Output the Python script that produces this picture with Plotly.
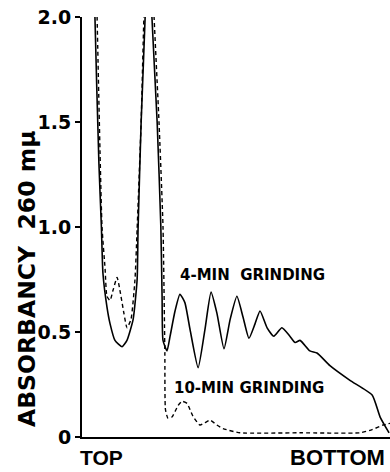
import plotly.graph_objects as go

# Position along gradient tube (0 = top, 100 = bottom), absorbance at 260 mu
x_4min = [3.6, 4.2, 5.5, 6.3, 6.8, 8.1, 9.1, 10.7, 13.0, 14.6, 16.6, 17.9, 18.2, 19.2, 20.5,
          21.4, 22.7, 24.4, 25.6, 26.0, 26.3, 27.6, 28.6, 30.2, 31.8, 33.4, 35.1, 37.7, 39.9,
          41.9, 43.8, 46.1, 48.1, 50.3, 52.3, 54.2, 56.2, 57.8, 60.1, 62.3, 64.9, 67.5, 69.2,
          70.8, 74.0, 76.3, 80.5, 87.0, 94.2, 96.8, 99.7]
y_4min = [2.6, 2.0, 1.3, 1.0, 0.78, 0.62, 0.54, 0.46, 0.43, 0.46, 0.56, 0.75, 0.99, 1.5, 2.0,
          2.6, 2.0, 1.5, 1.0, 0.67, 0.46, 0.41, 0.48, 0.60, 0.68, 0.64, 0.51, 0.33, 0.51,
          0.69, 0.59, 0.42, 0.56, 0.67, 0.57, 0.47, 0.54, 0.60, 0.52, 0.48, 0.52, 0.48, 0.45,
          0.46, 0.41, 0.40, 0.34, 0.27, 0.20, 0.095, 0.02]

x_10min = [4.2, 4.9, 6.5, 7.5, 8.1, 9.1, 10.1, 11.4, 12.3, 13.6, 14.6, 15.9, 17.2, 17.9, 19.2,
           20.1, 21.8, 23.4, 25.0, 26.3, 26.9, 27.1, 27.9, 29.2, 31.2, 32.5, 34.1, 36.0, 38.3,
           41.6, 43.8, 45.8, 51.3, 70.8, 90.3, 94.2, 97.7, 100.0]
y_10min = [2.5, 2.0, 1.0, 0.8, 0.67, 0.65, 0.70, 0.76, 0.70, 0.59, 0.52, 0.56, 0.75, 0.99, 1.5,
           2.0, 2.6, 2.0, 1.5, 1.0, 0.40, 0.13, 0.09, 0.095, 0.15, 0.17, 0.16, 0.10, 0.057,
           0.08, 0.057, 0.04, 0.02, 0.02, 0.02, 0.035, 0.057, 0.065]

y_ticks = [0, 0.5, 1.0, 1.5, 2.0]
y_tick_labels = ["0", "0.5", "1.0", "1.5", "2.0"]

FONT = "DejaVu Sans"

fig = go.Figure()
fig.add_trace(go.Scatter(x=x_4min, y=y_4min, mode="lines",
                         line=dict(color="black", width=1.6, shape="spline", smoothing=0.5),
                         showlegend=False, hoverinfo="skip"))
fig.add_trace(go.Scatter(x=x_10min, y=y_10min, mode="lines",
                         line=dict(color="black", width=1.4, dash="4px,3px", shape="spline", smoothing=0.5),
                         showlegend=False, hoverinfo="skip"))

fig.update_layout(
    width=390, height=472,
    margin=dict(l=82, r=0, t=17, b=35),
    paper_bgcolor="white", plot_bgcolor="white",
    xaxis=dict(range=[0, 100], showgrid=False, zeroline=False, showline=True,
               linecolor="black", linewidth=2, showticklabels=False, ticks=""),
    yaxis=dict(range=[0, 2.0], showgrid=False, zeroline=False, showline=True,
               linecolor="black", linewidth=2, tickvals=y_ticks,
               ticktext=["<b>%s</b>" % t for t in y_tick_labels],
               ticks="outside", ticklen=5, tickwidth=1.5, tickcolor="black",
               tickfont=dict(family=FONT, size=19, color="black")),
)

annotations = [
    dict(text="<b>ABSORBANCY\u00a0\u00a0260\u00a0mμ</b>", xref="paper", yref="paper",
         x=(27 - 82) / 308, y=(437 - 279) / 420, textangle=-90, showarrow=False,
         xanchor="center", yanchor="middle", font=dict(family=FONT, size=23.5, color="black")),
    dict(text="<b>TOP</b>", xref="x", yref="paper", x=6.2, y=0, yshift=-20, showarrow=False,
         xanchor="center", yanchor="middle", font=dict(family="Liberation Sans", size=21, color="black")),
    dict(text="<b>BOTTOM</b>", xref="x", yref="paper", x=83.1, y=0, yshift=-20, showarrow=False,
         xanchor="center", yanchor="middle", font=dict(family="Liberation Sans", size=22, color="black")),
    dict(text="<b>4-MIN\u00a0\u00a0GRINDING</b>", xref="x", yref="y", x=55.4, y=0.77, showarrow=False,
         xanchor="center", yanchor="middle", font=dict(family=FONT, size=15, color="black")),
    dict(text="<b>10-MIN GRINDING</b>", xref="x", yref="y", x=54.2, y=0.233, showarrow=False,
         xanchor="center", yanchor="middle", font=dict(family=FONT, size=15, color="black")),
]
fig.update_layout(annotations=annotations)

fig.write_html("out.html", config={"displayModeBar": False},
               post_script="document.body.style.margin='0';")
